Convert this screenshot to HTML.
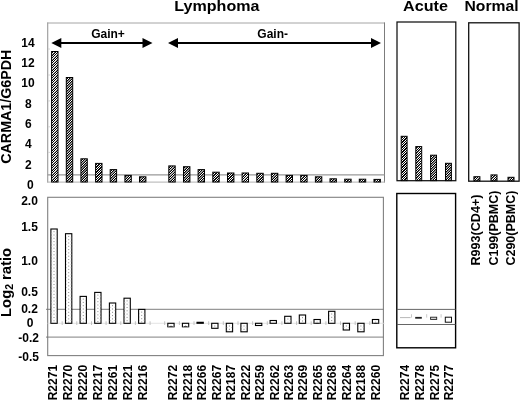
<!DOCTYPE html>
<html><head><meta charset="utf-8"><title>CARMA1</title>
<style>
html,body{margin:0;padding:0;background:#fff;}
body{width:520px;height:400px;overflow:hidden;font-family:"Liberation Sans",sans-serif;}
svg{display:block;will-change:transform;transform:translateZ(0);}
text{font-family:"Liberation Sans",sans-serif;font-weight:bold;fill:#000;}
</style></head><body>
<svg width="520" height="400" viewBox="0 0 520 400">
<defs>
<filter id="ct" x="0" y="0" width="100%" height="100%" color-interpolation-filters="sRGB"><feComponentTransfer><feFuncR type="linear" slope="2.5" intercept="-0.7"/><feFuncG type="linear" slope="2.5" intercept="-0.7"/><feFuncB type="linear" slope="2.5" intercept="-0.7"/></feComponentTransfer></filter>
</defs>
<rect width="520" height="400" fill="#fff"/>

<text transform="translate(216.9,11.1) scale(1,0.93)" font-size="16.1" text-anchor="middle">Lymphoma</text>
<text transform="translate(425.5,11) scale(1,0.93)" font-size="16.2" text-anchor="middle">Acute</text>
<text transform="translate(491.5,10.7) scale(1,0.93)" font-size="15.7" text-anchor="middle">Normal</text>
<text transform="translate(10.7,106.7) rotate(-90) scale(1.019,1)" font-size="14" text-anchor="middle">CARMA1/G6PDH</text>
<text transform="translate(10.8,316.9) rotate(-90) scale(1.055,1)" font-size="14">Log<tspan font-size="10" dy="2.6">2</tspan><tspan dy="-2.6"> ratio</tspan></text>
<text x="27.9" y="46.9" font-size="12" text-anchor="middle">14</text>
<text x="27.9" y="67.2" font-size="12" text-anchor="middle">12</text>
<text x="27.9" y="87.4" font-size="12" text-anchor="middle">10</text>
<text x="28.4" y="107.7" font-size="12" text-anchor="middle">8</text>
<text x="28.4" y="127.9" font-size="12" text-anchor="middle">6</text>
<text x="28.4" y="148.2" font-size="12" text-anchor="middle">4</text>
<text x="28.4" y="168.5" font-size="12" text-anchor="middle">2</text>
<text x="30.4" y="188.7" font-size="12" text-anchor="middle">0</text>
<text x="29.5" y="204.7" font-size="12" text-anchor="middle">2.0</text>
<text x="29.5" y="230.9" font-size="12" text-anchor="middle">1.5</text>
<text x="29.5" y="265.1" font-size="12" text-anchor="middle">1.0</text>
<text x="29.5" y="295.8" font-size="12" text-anchor="middle">0.5</text>
<text x="29.5" y="312.8" font-size="12" text-anchor="middle">0.2</text>
<text x="30.2" y="326.8" font-size="12" text-anchor="middle">0</text>
<text x="28.7" y="341.7" font-size="12" text-anchor="middle">-0.2</text>
<text x="28.7" y="361.4" font-size="12" text-anchor="middle">-0.5</text>
<line x1="47.7" y1="22.5" x2="47.7" y2="182.5" stroke="#999" stroke-width="1.1"/>
<line x1="47.2" y1="23" x2="385" y2="23" stroke="#a4a4a4" stroke-width="1"/>
<line x1="384.5" y1="22.5" x2="384.5" y2="182.5" stroke="#7c7c7c" stroke-width="1"/>
<line x1="47.2" y1="182.1" x2="385" y2="182.1" stroke="#b0b0b0" stroke-width="1"/>
<line x1="48.2" y1="49.0" x2="50" y2="49.0" stroke="#ccc" stroke-width="0.8"/>
<line x1="48.2" y1="75.0" x2="50" y2="75.0" stroke="#ccc" stroke-width="0.8"/>
<line x1="48.2" y1="100.9" x2="50" y2="100.9" stroke="#ccc" stroke-width="0.8"/>
<line x1="48.2" y1="126.8" x2="50" y2="126.8" stroke="#ccc" stroke-width="0.8"/>
<line x1="48.2" y1="152.4" x2="50" y2="152.4" stroke="#ccc" stroke-width="0.8"/>
<line x1="47.5" y1="174.9" x2="384.5" y2="174.9" stroke="#999" stroke-width="1.1"/>
<rect x="397" y="22" width="58.8" height="158.7" fill="none" stroke="#111" stroke-width="1.25"/>
<rect x="468.7" y="22.8" width="50.4" height="158.4" fill="none" stroke="#111" stroke-width="1.3"/>
<clipPath id="c1"><rect x="51.6" y="51.5" width="6.4" height="130.5"/></clipPath>
<g filter="url(#ct)"><rect x="51.6" y="51.5" width="6.4" height="130.5" fill="#fff"/>
<path clip-path="url(#c1)" d="M50.6,52.0 l8.4,-8.4 M50.6,54.5 l8.4,-8.4 M50.6,57.0 l8.4,-8.4 M50.6,59.5 l8.4,-8.4 M50.6,62.0 l8.4,-8.4 M50.6,64.5 l8.4,-8.4 M50.6,67.0 l8.4,-8.4 M50.6,69.5 l8.4,-8.4 M50.6,72.0 l8.4,-8.4 M50.6,74.5 l8.4,-8.4 M50.6,77.0 l8.4,-8.4 M50.6,79.5 l8.4,-8.4 M50.6,82.0 l8.4,-8.4 M50.6,84.5 l8.4,-8.4 M50.6,87.0 l8.4,-8.4 M50.6,89.5 l8.4,-8.4 M50.6,92.0 l8.4,-8.4 M50.6,94.5 l8.4,-8.4 M50.6,97.0 l8.4,-8.4 M50.6,99.5 l8.4,-8.4 M50.6,102.0 l8.4,-8.4 M50.6,104.5 l8.4,-8.4 M50.6,107.0 l8.4,-8.4 M50.6,109.5 l8.4,-8.4 M50.6,112.0 l8.4,-8.4 M50.6,114.5 l8.4,-8.4 M50.6,117.0 l8.4,-8.4 M50.6,119.5 l8.4,-8.4 M50.6,122.0 l8.4,-8.4 M50.6,124.5 l8.4,-8.4 M50.6,127.0 l8.4,-8.4 M50.6,129.5 l8.4,-8.4 M50.6,132.0 l8.4,-8.4 M50.6,134.5 l8.4,-8.4 M50.6,137.0 l8.4,-8.4 M50.6,139.5 l8.4,-8.4 M50.6,142.0 l8.4,-8.4 M50.6,144.5 l8.4,-8.4 M50.6,147.0 l8.4,-8.4 M50.6,149.5 l8.4,-8.4 M50.6,152.0 l8.4,-8.4 M50.6,154.5 l8.4,-8.4 M50.6,157.0 l8.4,-8.4 M50.6,159.5 l8.4,-8.4 M50.6,162.0 l8.4,-8.4 M50.6,164.5 l8.4,-8.4 M50.6,167.0 l8.4,-8.4 M50.6,169.5 l8.4,-8.4 M50.6,172.0 l8.4,-8.4 M50.6,174.5 l8.4,-8.4 M50.6,177.0 l8.4,-8.4 M50.6,179.5 l8.4,-8.4 M50.6,182.0 l8.4,-8.4 M50.6,184.5 l8.4,-8.4 M50.6,187.0 l8.4,-8.4 M50.6,189.5 l8.4,-8.4" stroke="#000" stroke-width="1.01" fill="none"/></g>
<rect x="51.6" y="51.5" width="6.4" height="130.5" fill="none" stroke="#000" stroke-width="1.0"/>
<clipPath id="c2"><rect x="66.3" y="77.5" width="6.4" height="104.5"/></clipPath>
<g filter="url(#ct)"><rect x="66.3" y="77.5" width="6.4" height="104.5" fill="#fff"/>
<path clip-path="url(#c2)" d="M65.3,78.0 l8.4,-8.4 M65.3,80.5 l8.4,-8.4 M65.3,83.0 l8.4,-8.4 M65.3,85.5 l8.4,-8.4 M65.3,88.0 l8.4,-8.4 M65.3,90.5 l8.4,-8.4 M65.3,93.0 l8.4,-8.4 M65.3,95.5 l8.4,-8.4 M65.3,98.0 l8.4,-8.4 M65.3,100.5 l8.4,-8.4 M65.3,103.0 l8.4,-8.4 M65.3,105.5 l8.4,-8.4 M65.3,108.0 l8.4,-8.4 M65.3,110.5 l8.4,-8.4 M65.3,113.0 l8.4,-8.4 M65.3,115.5 l8.4,-8.4 M65.3,118.0 l8.4,-8.4 M65.3,120.5 l8.4,-8.4 M65.3,123.0 l8.4,-8.4 M65.3,125.5 l8.4,-8.4 M65.3,128.0 l8.4,-8.4 M65.3,130.5 l8.4,-8.4 M65.3,133.0 l8.4,-8.4 M65.3,135.5 l8.4,-8.4 M65.3,138.0 l8.4,-8.4 M65.3,140.5 l8.4,-8.4 M65.3,143.0 l8.4,-8.4 M65.3,145.5 l8.4,-8.4 M65.3,148.0 l8.4,-8.4 M65.3,150.5 l8.4,-8.4 M65.3,153.0 l8.4,-8.4 M65.3,155.5 l8.4,-8.4 M65.3,158.0 l8.4,-8.4 M65.3,160.5 l8.4,-8.4 M65.3,163.0 l8.4,-8.4 M65.3,165.5 l8.4,-8.4 M65.3,168.0 l8.4,-8.4 M65.3,170.5 l8.4,-8.4 M65.3,173.0 l8.4,-8.4 M65.3,175.5 l8.4,-8.4 M65.3,178.0 l8.4,-8.4 M65.3,180.5 l8.4,-8.4 M65.3,183.0 l8.4,-8.4 M65.3,185.5 l8.4,-8.4 M65.3,188.0 l8.4,-8.4 M65.3,190.5 l8.4,-8.4" stroke="#000" stroke-width="1.01" fill="none"/></g>
<rect x="66.3" y="77.5" width="6.4" height="104.5" fill="none" stroke="#000" stroke-width="1.0"/>
<clipPath id="c3"><rect x="80.9" y="158.8" width="6.4" height="23.2"/></clipPath>
<g filter="url(#ct)"><rect x="80.9" y="158.8" width="6.4" height="23.2" fill="#fff"/>
<path clip-path="url(#c3)" d="M79.9,159.3 l8.4,-8.4 M79.9,161.8 l8.4,-8.4 M79.9,164.3 l8.4,-8.4 M79.9,166.8 l8.4,-8.4 M79.9,169.3 l8.4,-8.4 M79.9,171.8 l8.4,-8.4 M79.9,174.3 l8.4,-8.4 M79.9,176.8 l8.4,-8.4 M79.9,179.3 l8.4,-8.4 M79.9,181.8 l8.4,-8.4 M79.9,184.3 l8.4,-8.4 M79.9,186.8 l8.4,-8.4 M79.9,189.3 l8.4,-8.4 M79.9,191.8 l8.4,-8.4" stroke="#000" stroke-width="1.01" fill="none"/></g>
<rect x="80.9" y="158.8" width="6.4" height="23.2" fill="none" stroke="#000" stroke-width="1.0"/>
<clipPath id="c4"><rect x="95.6" y="163.4" width="6.4" height="18.6"/></clipPath>
<g filter="url(#ct)"><rect x="95.6" y="163.4" width="6.4" height="18.6" fill="#fff"/>
<path clip-path="url(#c4)" d="M94.6,163.9 l8.4,-8.4 M94.6,166.4 l8.4,-8.4 M94.6,168.9 l8.4,-8.4 M94.6,171.4 l8.4,-8.4 M94.6,173.9 l8.4,-8.4 M94.6,176.4 l8.4,-8.4 M94.6,178.9 l8.4,-8.4 M94.6,181.4 l8.4,-8.4 M94.6,183.9 l8.4,-8.4 M94.6,186.4 l8.4,-8.4 M94.6,188.9 l8.4,-8.4 M94.6,191.4 l8.4,-8.4" stroke="#000" stroke-width="1.01" fill="none"/></g>
<rect x="95.6" y="163.4" width="6.4" height="18.6" fill="none" stroke="#000" stroke-width="1.0"/>
<clipPath id="c5"><rect x="110.2" y="169.6" width="6.4" height="12.4"/></clipPath>
<g filter="url(#ct)"><rect x="110.2" y="169.6" width="6.4" height="12.4" fill="#fff"/>
<path clip-path="url(#c5)" d="M109.2,170.1 l8.4,-8.4 M109.2,172.6 l8.4,-8.4 M109.2,175.1 l8.4,-8.4 M109.2,177.6 l8.4,-8.4 M109.2,180.1 l8.4,-8.4 M109.2,182.6 l8.4,-8.4 M109.2,185.1 l8.4,-8.4 M109.2,187.6 l8.4,-8.4 M109.2,190.1 l8.4,-8.4" stroke="#000" stroke-width="1.01" fill="none"/></g>
<rect x="110.2" y="169.6" width="6.4" height="12.4" fill="none" stroke="#000" stroke-width="1.0"/>
<clipPath id="c6"><rect x="124.9" y="175.4" width="6.4" height="6.6"/></clipPath>
<g filter="url(#ct)"><rect x="124.9" y="175.4" width="6.4" height="6.6" fill="#fff"/>
<path clip-path="url(#c6)" d="M123.9,175.9 l8.4,-8.4 M123.9,178.4 l8.4,-8.4 M123.9,180.9 l8.4,-8.4 M123.9,183.4 l8.4,-8.4 M123.9,185.9 l8.4,-8.4 M123.9,188.4 l8.4,-8.4 M123.9,190.9 l8.4,-8.4" stroke="#000" stroke-width="1.01" fill="none"/></g>
<rect x="124.9" y="175.4" width="6.4" height="6.6" fill="none" stroke="#000" stroke-width="1.0"/>
<clipPath id="c7"><rect x="139.5" y="176.8" width="6.4" height="5.2"/></clipPath>
<g filter="url(#ct)"><rect x="139.5" y="176.8" width="6.4" height="5.2" fill="#fff"/>
<path clip-path="url(#c7)" d="M138.5,177.3 l8.4,-8.4 M138.5,179.8 l8.4,-8.4 M138.5,182.3 l8.4,-8.4 M138.5,184.8 l8.4,-8.4 M138.5,187.3 l8.4,-8.4 M138.5,189.8 l8.4,-8.4" stroke="#000" stroke-width="1.01" fill="none"/></g>
<rect x="139.5" y="176.8" width="6.4" height="5.2" fill="none" stroke="#000" stroke-width="1.0"/>
<clipPath id="c8"><rect x="168.8" y="165.9" width="6.4" height="16.1"/></clipPath>
<g filter="url(#ct)"><rect x="168.8" y="165.9" width="6.4" height="16.1" fill="#fff"/>
<path clip-path="url(#c8)" d="M167.8,166.4 l8.4,-8.4 M167.8,168.9 l8.4,-8.4 M167.8,171.4 l8.4,-8.4 M167.8,173.9 l8.4,-8.4 M167.8,176.4 l8.4,-8.4 M167.8,178.9 l8.4,-8.4 M167.8,181.4 l8.4,-8.4 M167.8,183.9 l8.4,-8.4 M167.8,186.4 l8.4,-8.4 M167.8,188.9 l8.4,-8.4 M167.8,191.4 l8.4,-8.4" stroke="#000" stroke-width="1.01" fill="none"/></g>
<rect x="168.8" y="165.9" width="6.4" height="16.1" fill="none" stroke="#000" stroke-width="1.0"/>
<clipPath id="c9"><rect x="183.5" y="166.7" width="6.4" height="15.3"/></clipPath>
<g filter="url(#ct)"><rect x="183.5" y="166.7" width="6.4" height="15.3" fill="#fff"/>
<path clip-path="url(#c9)" d="M182.5,167.2 l8.4,-8.4 M182.5,169.7 l8.4,-8.4 M182.5,172.2 l8.4,-8.4 M182.5,174.7 l8.4,-8.4 M182.5,177.2 l8.4,-8.4 M182.5,179.7 l8.4,-8.4 M182.5,182.2 l8.4,-8.4 M182.5,184.7 l8.4,-8.4 M182.5,187.2 l8.4,-8.4 M182.5,189.7 l8.4,-8.4" stroke="#000" stroke-width="1.01" fill="none"/></g>
<rect x="183.5" y="166.7" width="6.4" height="15.3" fill="none" stroke="#000" stroke-width="1.0"/>
<clipPath id="c10"><rect x="198.1" y="169.6" width="6.4" height="12.4"/></clipPath>
<g filter="url(#ct)"><rect x="198.1" y="169.6" width="6.4" height="12.4" fill="#fff"/>
<path clip-path="url(#c10)" d="M197.1,170.1 l8.4,-8.4 M197.1,172.6 l8.4,-8.4 M197.1,175.1 l8.4,-8.4 M197.1,177.6 l8.4,-8.4 M197.1,180.1 l8.4,-8.4 M197.1,182.6 l8.4,-8.4 M197.1,185.1 l8.4,-8.4 M197.1,187.6 l8.4,-8.4 M197.1,190.1 l8.4,-8.4" stroke="#000" stroke-width="1.01" fill="none"/></g>
<rect x="198.1" y="169.6" width="6.4" height="12.4" fill="none" stroke="#000" stroke-width="1.0"/>
<clipPath id="c11"><rect x="212.8" y="172.2" width="6.4" height="9.8"/></clipPath>
<g filter="url(#ct)"><rect x="212.8" y="172.2" width="6.4" height="9.8" fill="#fff"/>
<path clip-path="url(#c11)" d="M211.8,172.7 l8.4,-8.4 M211.8,175.2 l8.4,-8.4 M211.8,177.7 l8.4,-8.4 M211.8,180.2 l8.4,-8.4 M211.8,182.7 l8.4,-8.4 M211.8,185.2 l8.4,-8.4 M211.8,187.7 l8.4,-8.4 M211.8,190.2 l8.4,-8.4" stroke="#000" stroke-width="1.01" fill="none"/></g>
<rect x="212.8" y="172.2" width="6.4" height="9.8" fill="none" stroke="#000" stroke-width="1.0"/>
<clipPath id="c12"><rect x="227.5" y="173.0" width="6.4" height="9.0"/></clipPath>
<g filter="url(#ct)"><rect x="227.5" y="173.0" width="6.4" height="9.0" fill="#fff"/>
<path clip-path="url(#c12)" d="M226.5,173.5 l8.4,-8.4 M226.5,176.0 l8.4,-8.4 M226.5,178.5 l8.4,-8.4 M226.5,181.0 l8.4,-8.4 M226.5,183.5 l8.4,-8.4 M226.5,186.0 l8.4,-8.4 M226.5,188.5 l8.4,-8.4 M226.5,191.0 l8.4,-8.4" stroke="#000" stroke-width="1.01" fill="none"/></g>
<rect x="227.5" y="173.0" width="6.4" height="9.0" fill="none" stroke="#000" stroke-width="1.0"/>
<clipPath id="c13"><rect x="242.1" y="173.0" width="6.4" height="9.0"/></clipPath>
<g filter="url(#ct)"><rect x="242.1" y="173.0" width="6.4" height="9.0" fill="#fff"/>
<path clip-path="url(#c13)" d="M241.1,173.5 l8.4,-8.4 M241.1,176.0 l8.4,-8.4 M241.1,178.5 l8.4,-8.4 M241.1,181.0 l8.4,-8.4 M241.1,183.5 l8.4,-8.4 M241.1,186.0 l8.4,-8.4 M241.1,188.5 l8.4,-8.4 M241.1,191.0 l8.4,-8.4" stroke="#000" stroke-width="1.01" fill="none"/></g>
<rect x="242.1" y="173.0" width="6.4" height="9.0" fill="none" stroke="#000" stroke-width="1.0"/>
<clipPath id="c14"><rect x="256.8" y="173.3" width="6.4" height="8.7"/></clipPath>
<g filter="url(#ct)"><rect x="256.8" y="173.3" width="6.4" height="8.7" fill="#fff"/>
<path clip-path="url(#c14)" d="M255.8,173.8 l8.4,-8.4 M255.8,176.3 l8.4,-8.4 M255.8,178.8 l8.4,-8.4 M255.8,181.3 l8.4,-8.4 M255.8,183.8 l8.4,-8.4 M255.8,186.3 l8.4,-8.4 M255.8,188.8 l8.4,-8.4 M255.8,191.3 l8.4,-8.4" stroke="#000" stroke-width="1.01" fill="none"/></g>
<rect x="256.8" y="173.3" width="6.4" height="8.7" fill="none" stroke="#000" stroke-width="1.0"/>
<clipPath id="c15"><rect x="271.4" y="173.3" width="6.4" height="8.7"/></clipPath>
<g filter="url(#ct)"><rect x="271.4" y="173.3" width="6.4" height="8.7" fill="#fff"/>
<path clip-path="url(#c15)" d="M270.4,173.8 l8.4,-8.4 M270.4,176.3 l8.4,-8.4 M270.4,178.8 l8.4,-8.4 M270.4,181.3 l8.4,-8.4 M270.4,183.8 l8.4,-8.4 M270.4,186.3 l8.4,-8.4 M270.4,188.8 l8.4,-8.4 M270.4,191.3 l8.4,-8.4" stroke="#000" stroke-width="1.01" fill="none"/></g>
<rect x="271.4" y="173.3" width="6.4" height="8.7" fill="none" stroke="#000" stroke-width="1.0"/>
<clipPath id="c16"><rect x="286.1" y="175.4" width="6.4" height="6.6"/></clipPath>
<g filter="url(#ct)"><rect x="286.1" y="175.4" width="6.4" height="6.6" fill="#fff"/>
<path clip-path="url(#c16)" d="M285.1,175.9 l8.4,-8.4 M285.1,178.4 l8.4,-8.4 M285.1,180.9 l8.4,-8.4 M285.1,183.4 l8.4,-8.4 M285.1,185.9 l8.4,-8.4 M285.1,188.4 l8.4,-8.4 M285.1,190.9 l8.4,-8.4" stroke="#000" stroke-width="1.01" fill="none"/></g>
<rect x="286.1" y="175.4" width="6.4" height="6.6" fill="none" stroke="#000" stroke-width="1.0"/>
<clipPath id="c17"><rect x="300.7" y="175.4" width="6.4" height="6.6"/></clipPath>
<g filter="url(#ct)"><rect x="300.7" y="175.4" width="6.4" height="6.6" fill="#fff"/>
<path clip-path="url(#c17)" d="M299.7,175.9 l8.4,-8.4 M299.7,178.4 l8.4,-8.4 M299.7,180.9 l8.4,-8.4 M299.7,183.4 l8.4,-8.4 M299.7,185.9 l8.4,-8.4 M299.7,188.4 l8.4,-8.4 M299.7,190.9 l8.4,-8.4" stroke="#000" stroke-width="1.01" fill="none"/></g>
<rect x="300.7" y="175.4" width="6.4" height="6.6" fill="none" stroke="#000" stroke-width="1.0"/>
<clipPath id="c18"><rect x="315.4" y="176.8" width="6.4" height="5.2"/></clipPath>
<g filter="url(#ct)"><rect x="315.4" y="176.8" width="6.4" height="5.2" fill="#fff"/>
<path clip-path="url(#c18)" d="M314.4,177.3 l8.4,-8.4 M314.4,179.8 l8.4,-8.4 M314.4,182.3 l8.4,-8.4 M314.4,184.8 l8.4,-8.4 M314.4,187.3 l8.4,-8.4 M314.4,189.8 l8.4,-8.4" stroke="#000" stroke-width="1.01" fill="none"/></g>
<rect x="315.4" y="176.8" width="6.4" height="5.2" fill="none" stroke="#000" stroke-width="1.0"/>
<clipPath id="c19"><rect x="330.0" y="178.8" width="6.4" height="3.2"/></clipPath>
<g filter="url(#ct)"><rect x="330.0" y="178.8" width="6.4" height="3.2" fill="#fff"/>
<path clip-path="url(#c19)" d="M329.0,179.3 l8.4,-8.4 M329.0,181.8 l8.4,-8.4 M329.0,184.3 l8.4,-8.4 M329.0,186.8 l8.4,-8.4 M329.0,189.3 l8.4,-8.4 M329.0,191.8 l8.4,-8.4" stroke="#000" stroke-width="1.01" fill="none"/></g>
<rect x="330.0" y="178.8" width="6.4" height="3.2" fill="none" stroke="#000" stroke-width="1.0"/>
<clipPath id="c20"><rect x="344.7" y="179.2" width="6.4" height="2.8"/></clipPath>
<g filter="url(#ct)"><rect x="344.7" y="179.2" width="6.4" height="2.8" fill="#fff"/>
<path clip-path="url(#c20)" d="M343.7,179.7 l8.4,-8.4 M343.7,182.2 l8.4,-8.4 M343.7,184.7 l8.4,-8.4 M343.7,187.2 l8.4,-8.4 M343.7,189.7 l8.4,-8.4" stroke="#000" stroke-width="1.01" fill="none"/></g>
<rect x="344.7" y="179.2" width="6.4" height="2.8" fill="none" stroke="#000" stroke-width="1.0"/>
<clipPath id="c21"><rect x="359.3" y="179.2" width="6.4" height="2.8"/></clipPath>
<g filter="url(#ct)"><rect x="359.3" y="179.2" width="6.4" height="2.8" fill="#fff"/>
<path clip-path="url(#c21)" d="M358.3,179.7 l8.4,-8.4 M358.3,182.2 l8.4,-8.4 M358.3,184.7 l8.4,-8.4 M358.3,187.2 l8.4,-8.4 M358.3,189.7 l8.4,-8.4" stroke="#000" stroke-width="1.01" fill="none"/></g>
<rect x="359.3" y="179.2" width="6.4" height="2.8" fill="none" stroke="#000" stroke-width="1.0"/>
<clipPath id="c22"><rect x="374.0" y="179.4" width="6.4" height="2.6"/></clipPath>
<g filter="url(#ct)"><rect x="374.0" y="179.4" width="6.4" height="2.6" fill="#fff"/>
<path clip-path="url(#c22)" d="M373.0,179.9 l8.4,-8.4 M373.0,182.4 l8.4,-8.4 M373.0,184.9 l8.4,-8.4 M373.0,187.4 l8.4,-8.4 M373.0,189.9 l8.4,-8.4" stroke="#000" stroke-width="1.01" fill="none"/></g>
<rect x="374.0" y="179.4" width="6.4" height="2.6" fill="none" stroke="#000" stroke-width="1.0"/>
<clipPath id="c23"><rect x="401.2" y="136.3" width="5.9" height="44.3"/></clipPath>
<g filter="url(#ct)"><rect x="401.2" y="136.3" width="5.9" height="44.3" fill="#fff"/>
<path clip-path="url(#c23)" d="M400.2,136.8 l7.9,-7.9 M400.2,139.3 l7.9,-7.9 M400.2,141.8 l7.9,-7.9 M400.2,144.3 l7.9,-7.9 M400.2,146.8 l7.9,-7.9 M400.2,149.3 l7.9,-7.9 M400.2,151.8 l7.9,-7.9 M400.2,154.3 l7.9,-7.9 M400.2,156.8 l7.9,-7.9 M400.2,159.3 l7.9,-7.9 M400.2,161.8 l7.9,-7.9 M400.2,164.3 l7.9,-7.9 M400.2,166.8 l7.9,-7.9 M400.2,169.3 l7.9,-7.9 M400.2,171.8 l7.9,-7.9 M400.2,174.3 l7.9,-7.9 M400.2,176.8 l7.9,-7.9 M400.2,179.3 l7.9,-7.9 M400.2,181.8 l7.9,-7.9 M400.2,184.3 l7.9,-7.9 M400.2,186.8 l7.9,-7.9 M400.2,189.3 l7.9,-7.9" stroke="#000" stroke-width="1.01" fill="none"/></g>
<rect x="401.2" y="136.3" width="5.9" height="44.3" fill="none" stroke="#000" stroke-width="1.0"/>
<clipPath id="c24"><rect x="415.8" y="146.6" width="5.9" height="34.0"/></clipPath>
<g filter="url(#ct)"><rect x="415.8" y="146.6" width="5.9" height="34.0" fill="#fff"/>
<path clip-path="url(#c24)" d="M414.8,147.1 l7.9,-7.9 M414.8,149.6 l7.9,-7.9 M414.8,152.1 l7.9,-7.9 M414.8,154.6 l7.9,-7.9 M414.8,157.1 l7.9,-7.9 M414.8,159.6 l7.9,-7.9 M414.8,162.1 l7.9,-7.9 M414.8,164.6 l7.9,-7.9 M414.8,167.1 l7.9,-7.9 M414.8,169.6 l7.9,-7.9 M414.8,172.1 l7.9,-7.9 M414.8,174.6 l7.9,-7.9 M414.8,177.1 l7.9,-7.9 M414.8,179.6 l7.9,-7.9 M414.8,182.1 l7.9,-7.9 M414.8,184.6 l7.9,-7.9 M414.8,187.1 l7.9,-7.9 M414.8,189.6 l7.9,-7.9" stroke="#000" stroke-width="1.01" fill="none"/></g>
<rect x="415.8" y="146.6" width="5.9" height="34.0" fill="none" stroke="#000" stroke-width="1.0"/>
<clipPath id="c25"><rect x="430.6" y="155.2" width="5.9" height="25.4"/></clipPath>
<g filter="url(#ct)"><rect x="430.6" y="155.2" width="5.9" height="25.4" fill="#fff"/>
<path clip-path="url(#c25)" d="M429.6,155.7 l7.9,-7.9 M429.6,158.2 l7.9,-7.9 M429.6,160.7 l7.9,-7.9 M429.6,163.2 l7.9,-7.9 M429.6,165.7 l7.9,-7.9 M429.6,168.2 l7.9,-7.9 M429.6,170.7 l7.9,-7.9 M429.6,173.2 l7.9,-7.9 M429.6,175.7 l7.9,-7.9 M429.6,178.2 l7.9,-7.9 M429.6,180.7 l7.9,-7.9 M429.6,183.2 l7.9,-7.9 M429.6,185.7 l7.9,-7.9 M429.6,188.2 l7.9,-7.9" stroke="#000" stroke-width="1.01" fill="none"/></g>
<rect x="430.6" y="155.2" width="5.9" height="25.4" fill="none" stroke="#000" stroke-width="1.0"/>
<clipPath id="c26"><rect x="445.5" y="163.3" width="5.9" height="17.3"/></clipPath>
<g filter="url(#ct)"><rect x="445.5" y="163.3" width="5.9" height="17.3" fill="#fff"/>
<path clip-path="url(#c26)" d="M444.5,163.8 l7.9,-7.9 M444.5,166.3 l7.9,-7.9 M444.5,168.8 l7.9,-7.9 M444.5,171.3 l7.9,-7.9 M444.5,173.8 l7.9,-7.9 M444.5,176.3 l7.9,-7.9 M444.5,178.8 l7.9,-7.9 M444.5,181.3 l7.9,-7.9 M444.5,183.8 l7.9,-7.9 M444.5,186.3 l7.9,-7.9 M444.5,188.8 l7.9,-7.9" stroke="#000" stroke-width="1.01" fill="none"/></g>
<rect x="445.5" y="163.3" width="5.9" height="17.3" fill="none" stroke="#000" stroke-width="1.0"/>
<clipPath id="c27"><rect x="473.9" y="176.7" width="6.0" height="4.1"/></clipPath>
<g filter="url(#ct)"><rect x="473.9" y="176.7" width="6.0" height="4.1" fill="#fff"/>
<path clip-path="url(#c27)" d="M472.9,177.2 l8.0,-8.0 M472.9,179.7 l8.0,-8.0 M472.9,182.2 l8.0,-8.0 M472.9,184.7 l8.0,-8.0 M472.9,187.2 l8.0,-8.0 M472.9,189.7 l8.0,-8.0" stroke="#000" stroke-width="1.01" fill="none"/></g>
<rect x="473.9" y="176.7" width="6.0" height="4.1" fill="none" stroke="#000" stroke-width="1.0"/>
<clipPath id="c28"><rect x="491.0" y="174.9" width="6.0" height="5.9"/></clipPath>
<g filter="url(#ct)"><rect x="491.0" y="174.9" width="6.0" height="5.9" fill="#fff"/>
<path clip-path="url(#c28)" d="M490.0,175.4 l8.0,-8.0 M490.0,177.9 l8.0,-8.0 M490.0,180.4 l8.0,-8.0 M490.0,182.9 l8.0,-8.0 M490.0,185.4 l8.0,-8.0 M490.0,187.9 l8.0,-8.0" stroke="#000" stroke-width="1.01" fill="none"/></g>
<rect x="491.0" y="174.9" width="6.0" height="5.9" fill="none" stroke="#000" stroke-width="1.0"/>
<clipPath id="c29"><rect x="508.0" y="177.3" width="6.0" height="3.5"/></clipPath>
<g filter="url(#ct)"><rect x="508.0" y="177.3" width="6.0" height="3.5" fill="#fff"/>
<path clip-path="url(#c29)" d="M507.0,177.8 l8.0,-8.0 M507.0,180.3 l8.0,-8.0 M507.0,182.8 l8.0,-8.0 M507.0,185.3 l8.0,-8.0 M507.0,187.8 l8.0,-8.0" stroke="#000" stroke-width="1.01" fill="none"/></g>
<rect x="508.0" y="177.3" width="6.0" height="3.5" fill="none" stroke="#000" stroke-width="1.0"/>
<line x1="56.3" y1="43.0" x2="147.5" y2="43.0" stroke="#000" stroke-width="2.2"/>
<path d="M51.3,43.0 l10,-5 v10 z" fill="#000"/>
<path d="M152.5,43.0 l-10,-5 v10 z" fill="#000"/>
<line x1="173.0" y1="43.0" x2="376.0" y2="43.0" stroke="#000" stroke-width="2.2"/>
<path d="M168.0,43.0 l10,-5 v10 z" fill="#000"/>
<path d="M381.0,43.0 l-10,-5 v10 z" fill="#000"/>
<text x="108" y="38" font-size="12" text-anchor="middle">Gain+</text>
<text x="272.7" y="37.6" font-size="12" text-anchor="middle">Gain-</text>
<rect x="47.7" y="197.3" width="335.7" height="158.3" fill="none" stroke="#808080" stroke-width="1.1"/>
<line x1="46" y1="309.3" x2="383.4" y2="309.3" stroke="#707070" stroke-width="0.9"/>
<line x1="46" y1="337.1" x2="383.4" y2="337.1" stroke="#707070" stroke-width="0.9"/>
<line x1="47.5" y1="323.3" x2="384.5" y2="323.3" stroke="#ddd" stroke-width="0.8"/>
<line x1="62.2" y1="321.3" x2="62.2" y2="325" stroke="#bbb" stroke-width="0.9"/>
<line x1="76.8" y1="321.3" x2="76.8" y2="325" stroke="#bbb" stroke-width="0.9"/>
<line x1="91.5" y1="321.3" x2="91.5" y2="325" stroke="#bbb" stroke-width="0.9"/>
<line x1="106.1" y1="321.3" x2="106.1" y2="325" stroke="#bbb" stroke-width="0.9"/>
<line x1="120.8" y1="321.3" x2="120.8" y2="325" stroke="#bbb" stroke-width="0.9"/>
<line x1="135.4" y1="321.3" x2="135.4" y2="325" stroke="#bbb" stroke-width="0.9"/>
<line x1="150.1" y1="321.3" x2="150.1" y2="325" stroke="#bbb" stroke-width="0.9"/>
<line x1="164.7" y1="321.3" x2="164.7" y2="325" stroke="#bbb" stroke-width="0.9"/>
<line x1="179.4" y1="321.3" x2="179.4" y2="325" stroke="#bbb" stroke-width="0.9"/>
<line x1="194.0" y1="321.3" x2="194.0" y2="325" stroke="#bbb" stroke-width="0.9"/>
<line x1="208.7" y1="321.3" x2="208.7" y2="325" stroke="#bbb" stroke-width="0.9"/>
<line x1="223.3" y1="321.3" x2="223.3" y2="325" stroke="#bbb" stroke-width="0.9"/>
<line x1="238.0" y1="321.3" x2="238.0" y2="325" stroke="#bbb" stroke-width="0.9"/>
<line x1="252.6" y1="321.3" x2="252.6" y2="325" stroke="#bbb" stroke-width="0.9"/>
<line x1="267.3" y1="321.3" x2="267.3" y2="325" stroke="#bbb" stroke-width="0.9"/>
<line x1="281.9" y1="321.3" x2="281.9" y2="325" stroke="#bbb" stroke-width="0.9"/>
<line x1="296.6" y1="321.3" x2="296.6" y2="325" stroke="#bbb" stroke-width="0.9"/>
<line x1="311.2" y1="321.3" x2="311.2" y2="325" stroke="#bbb" stroke-width="0.9"/>
<line x1="325.9" y1="321.3" x2="325.9" y2="325" stroke="#bbb" stroke-width="0.9"/>
<line x1="340.5" y1="321.3" x2="340.5" y2="325" stroke="#bbb" stroke-width="0.9"/>
<line x1="355.2" y1="321.3" x2="355.2" y2="325" stroke="#bbb" stroke-width="0.9"/>
<line x1="369.8" y1="321.3" x2="369.8" y2="325" stroke="#bbb" stroke-width="0.9"/>
<rect x="396.8" y="193.5" width="58.8" height="154.3" fill="none" stroke="#000" stroke-width="1.4"/>
<line x1="396.8" y1="309.4" x2="455.6" y2="309.4" stroke="#555" stroke-width="0.9"/>
<line x1="396.8" y1="324.5" x2="455.6" y2="324.5" stroke="#555" stroke-width="0.9"/>
<line x1="411.5" y1="314.2" x2="411.5" y2="317.6" stroke="#bbb" stroke-width="0.8"/>
<line x1="426.7" y1="314.2" x2="426.7" y2="317.6" stroke="#bbb" stroke-width="0.8"/>
<line x1="441.1" y1="314.2" x2="441.1" y2="317.6" stroke="#bbb" stroke-width="0.8"/>
<rect x="50.9" y="229.0" width="6.3" height="94.3" fill="#fff" stroke="#000" stroke-width="1.1"/>
<line x1="54.0" y1="231.2" x2="54.0" y2="322.5" stroke="#888" stroke-width="1" stroke-dasharray="1,2.3"/>
<line x1="51.8" y1="232.8" x2="51.8" y2="322.5" stroke="#bbb" stroke-width="0.8" stroke-dasharray="1,2.3"/>
<line x1="56.2" y1="232.8" x2="56.2" y2="322.5" stroke="#bbb" stroke-width="0.8" stroke-dasharray="1,2.3"/>
<rect x="65.5" y="233.7" width="6.3" height="89.6" fill="#fff" stroke="#000" stroke-width="1.1"/>
<line x1="68.7" y1="235.9" x2="68.7" y2="322.5" stroke="#888" stroke-width="1" stroke-dasharray="1,2.3"/>
<line x1="66.5" y1="237.5" x2="66.5" y2="322.5" stroke="#bbb" stroke-width="0.8" stroke-dasharray="1,2.3"/>
<line x1="70.9" y1="237.5" x2="70.9" y2="322.5" stroke="#bbb" stroke-width="0.8" stroke-dasharray="1,2.3"/>
<rect x="80.1" y="296.4" width="6.3" height="26.9" fill="#fff" stroke="#000" stroke-width="1.1"/>
<line x1="83.3" y1="298.6" x2="83.3" y2="322.5" stroke="#888" stroke-width="1" stroke-dasharray="1,2.3"/>
<line x1="81.1" y1="300.2" x2="81.1" y2="322.5" stroke="#bbb" stroke-width="0.8" stroke-dasharray="1,2.3"/>
<line x1="85.5" y1="300.2" x2="85.5" y2="322.5" stroke="#bbb" stroke-width="0.8" stroke-dasharray="1,2.3"/>
<rect x="94.7" y="292.4" width="6.3" height="30.9" fill="#fff" stroke="#000" stroke-width="1.1"/>
<line x1="97.9" y1="294.6" x2="97.9" y2="322.5" stroke="#888" stroke-width="1" stroke-dasharray="1,2.3"/>
<line x1="95.7" y1="296.2" x2="95.7" y2="322.5" stroke="#bbb" stroke-width="0.8" stroke-dasharray="1,2.3"/>
<line x1="100.1" y1="296.2" x2="100.1" y2="322.5" stroke="#bbb" stroke-width="0.8" stroke-dasharray="1,2.3"/>
<rect x="109.4" y="303.0" width="6.3" height="20.3" fill="#fff" stroke="#000" stroke-width="1.1"/>
<line x1="112.5" y1="305.2" x2="112.5" y2="322.5" stroke="#888" stroke-width="1" stroke-dasharray="1,2.3"/>
<line x1="110.3" y1="306.8" x2="110.3" y2="322.5" stroke="#bbb" stroke-width="0.8" stroke-dasharray="1,2.3"/>
<line x1="114.7" y1="306.8" x2="114.7" y2="322.5" stroke="#bbb" stroke-width="0.8" stroke-dasharray="1,2.3"/>
<rect x="124.0" y="298.2" width="6.3" height="25.1" fill="#fff" stroke="#000" stroke-width="1.1"/>
<line x1="127.1" y1="300.4" x2="127.1" y2="322.5" stroke="#888" stroke-width="1" stroke-dasharray="1,2.3"/>
<line x1="124.9" y1="302.0" x2="124.9" y2="322.5" stroke="#bbb" stroke-width="0.8" stroke-dasharray="1,2.3"/>
<line x1="129.3" y1="302.0" x2="129.3" y2="322.5" stroke="#bbb" stroke-width="0.8" stroke-dasharray="1,2.3"/>
<rect x="138.6" y="309.4" width="6.3" height="13.9" fill="#fff" stroke="#000" stroke-width="1.1"/>
<line x1="141.7" y1="311.6" x2="141.7" y2="322.5" stroke="#888" stroke-width="1" stroke-dasharray="1,2.3"/>
<line x1="139.5" y1="313.2" x2="139.5" y2="322.5" stroke="#bbb" stroke-width="0.8" stroke-dasharray="1,2.3"/>
<line x1="143.9" y1="313.2" x2="143.9" y2="322.5" stroke="#bbb" stroke-width="0.8" stroke-dasharray="1,2.3"/>
<rect x="167.8" y="323.3" width="6.3" height="3.5" fill="#fff" stroke="#000" stroke-width="1.1"/>
<line x1="171.0" y1="325.5" x2="171.0" y2="326.0" stroke="#888" stroke-width="1" stroke-dasharray="1,2.3"/>
<line x1="168.8" y1="327.1" x2="168.8" y2="326.0" stroke="#bbb" stroke-width="0.8" stroke-dasharray="1,2.3"/>
<line x1="173.2" y1="327.1" x2="173.2" y2="326.0" stroke="#bbb" stroke-width="0.8" stroke-dasharray="1,2.3"/>
<rect x="182.4" y="323.3" width="6.3" height="3.5" fill="#fff" stroke="#000" stroke-width="1.1"/>
<line x1="185.6" y1="325.5" x2="185.6" y2="326.0" stroke="#888" stroke-width="1" stroke-dasharray="1,2.3"/>
<line x1="183.4" y1="327.1" x2="183.4" y2="326.0" stroke="#bbb" stroke-width="0.8" stroke-dasharray="1,2.3"/>
<line x1="187.8" y1="327.1" x2="187.8" y2="326.0" stroke="#bbb" stroke-width="0.8" stroke-dasharray="1,2.3"/>
<rect x="197.0" y="322.3" width="6.3" height="1.0" fill="#fff" stroke="#000" stroke-width="1.1"/>
<rect x="211.7" y="323.3" width="6.3" height="5.0" fill="#fff" stroke="#000" stroke-width="1.1"/>
<line x1="214.8" y1="325.5" x2="214.8" y2="327.5" stroke="#888" stroke-width="1" stroke-dasharray="1,2.3"/>
<line x1="212.6" y1="327.1" x2="212.6" y2="327.5" stroke="#bbb" stroke-width="0.8" stroke-dasharray="1,2.3"/>
<line x1="217.0" y1="327.1" x2="217.0" y2="327.5" stroke="#bbb" stroke-width="0.8" stroke-dasharray="1,2.3"/>
<rect x="226.3" y="323.3" width="6.3" height="8.5" fill="#fff" stroke="#000" stroke-width="1.1"/>
<line x1="229.4" y1="325.5" x2="229.4" y2="331.0" stroke="#888" stroke-width="1" stroke-dasharray="1,2.3"/>
<line x1="227.2" y1="327.1" x2="227.2" y2="331.0" stroke="#bbb" stroke-width="0.8" stroke-dasharray="1,2.3"/>
<line x1="231.6" y1="327.1" x2="231.6" y2="331.0" stroke="#bbb" stroke-width="0.8" stroke-dasharray="1,2.3"/>
<rect x="240.9" y="323.3" width="6.3" height="8.5" fill="#fff" stroke="#000" stroke-width="1.1"/>
<line x1="244.0" y1="325.5" x2="244.0" y2="331.0" stroke="#888" stroke-width="1" stroke-dasharray="1,2.3"/>
<line x1="241.8" y1="327.1" x2="241.8" y2="331.0" stroke="#bbb" stroke-width="0.8" stroke-dasharray="1,2.3"/>
<line x1="246.2" y1="327.1" x2="246.2" y2="331.0" stroke="#bbb" stroke-width="0.8" stroke-dasharray="1,2.3"/>
<rect x="255.5" y="323.3" width="6.3" height="2.2" fill="#fff" stroke="#000" stroke-width="1.1"/>
<rect x="270.1" y="320.5" width="6.3" height="2.8" fill="#fff" stroke="#000" stroke-width="1.1"/>
<rect x="284.7" y="316.3" width="6.3" height="7.0" fill="#fff" stroke="#000" stroke-width="1.1"/>
<line x1="287.9" y1="318.5" x2="287.9" y2="322.5" stroke="#888" stroke-width="1" stroke-dasharray="1,2.3"/>
<line x1="285.7" y1="320.1" x2="285.7" y2="322.5" stroke="#bbb" stroke-width="0.8" stroke-dasharray="1,2.3"/>
<line x1="290.1" y1="320.1" x2="290.1" y2="322.5" stroke="#bbb" stroke-width="0.8" stroke-dasharray="1,2.3"/>
<rect x="299.3" y="315.0" width="6.3" height="8.3" fill="#fff" stroke="#000" stroke-width="1.1"/>
<line x1="302.5" y1="317.2" x2="302.5" y2="322.5" stroke="#888" stroke-width="1" stroke-dasharray="1,2.3"/>
<line x1="300.3" y1="318.8" x2="300.3" y2="322.5" stroke="#bbb" stroke-width="0.8" stroke-dasharray="1,2.3"/>
<line x1="304.7" y1="318.8" x2="304.7" y2="322.5" stroke="#bbb" stroke-width="0.8" stroke-dasharray="1,2.3"/>
<rect x="314.0" y="319.5" width="6.3" height="3.8" fill="#fff" stroke="#000" stroke-width="1.1"/>
<line x1="317.1" y1="321.7" x2="317.1" y2="322.5" stroke="#888" stroke-width="1" stroke-dasharray="1,2.3"/>
<line x1="314.9" y1="323.3" x2="314.9" y2="322.5" stroke="#bbb" stroke-width="0.8" stroke-dasharray="1,2.3"/>
<line x1="319.3" y1="323.3" x2="319.3" y2="322.5" stroke="#bbb" stroke-width="0.8" stroke-dasharray="1,2.3"/>
<rect x="328.6" y="311.3" width="6.3" height="12.0" fill="#fff" stroke="#000" stroke-width="1.1"/>
<line x1="331.7" y1="313.5" x2="331.7" y2="322.5" stroke="#888" stroke-width="1" stroke-dasharray="1,2.3"/>
<line x1="329.5" y1="315.1" x2="329.5" y2="322.5" stroke="#bbb" stroke-width="0.8" stroke-dasharray="1,2.3"/>
<line x1="333.9" y1="315.1" x2="333.9" y2="322.5" stroke="#bbb" stroke-width="0.8" stroke-dasharray="1,2.3"/>
<rect x="343.2" y="323.3" width="6.3" height="6.7" fill="#fff" stroke="#000" stroke-width="1.1"/>
<line x1="346.3" y1="325.5" x2="346.3" y2="329.2" stroke="#888" stroke-width="1" stroke-dasharray="1,2.3"/>
<line x1="344.1" y1="327.1" x2="344.1" y2="329.2" stroke="#bbb" stroke-width="0.8" stroke-dasharray="1,2.3"/>
<line x1="348.5" y1="327.1" x2="348.5" y2="329.2" stroke="#bbb" stroke-width="0.8" stroke-dasharray="1,2.3"/>
<rect x="357.8" y="323.3" width="6.3" height="8.5" fill="#fff" stroke="#000" stroke-width="1.1"/>
<line x1="360.9" y1="325.5" x2="360.9" y2="331.0" stroke="#888" stroke-width="1" stroke-dasharray="1,2.3"/>
<line x1="358.7" y1="327.1" x2="358.7" y2="331.0" stroke="#bbb" stroke-width="0.8" stroke-dasharray="1,2.3"/>
<line x1="363.1" y1="327.1" x2="363.1" y2="331.0" stroke="#bbb" stroke-width="0.8" stroke-dasharray="1,2.3"/>
<rect x="372.4" y="319.5" width="6.3" height="3.8" fill="#fff" stroke="#000" stroke-width="1.1"/>
<line x1="375.6" y1="321.7" x2="375.6" y2="322.5" stroke="#888" stroke-width="1" stroke-dasharray="1,2.3"/>
<line x1="373.4" y1="323.3" x2="373.4" y2="322.5" stroke="#bbb" stroke-width="0.8" stroke-dasharray="1,2.3"/>
<line x1="377.8" y1="323.3" x2="377.8" y2="322.5" stroke="#bbb" stroke-width="0.8" stroke-dasharray="1,2.3"/>
<line x1="400" y1="317.6" x2="410.6" y2="317.6" stroke="#999" stroke-width="0.7"/>
<rect x="415.2" y="316.9" width="6.6" height="1.8" fill="#222"/>
<rect x="430.6" y="317.2" width="6.1" height="2.2" fill="#ddd" stroke="#222" stroke-width="0.9"/>
<rect x="445.3" y="317.2" width="6.2" height="5" fill="#fff" stroke="#111" stroke-width="1"/>
<text transform="translate(56.9,400.3) rotate(-90)" font-size="12">R2271</text>
<text transform="translate(71.9,400.3) rotate(-90)" font-size="12">R2270</text>
<text transform="translate(86.9,400.3) rotate(-90)" font-size="12">R2220</text>
<text transform="translate(101.9,400.3) rotate(-90)" font-size="12">R2217</text>
<text transform="translate(116.9,400.3) rotate(-90)" font-size="12">R2261</text>
<text transform="translate(131.9,400.3) rotate(-90)" font-size="12">R2221</text>
<text transform="translate(146.9,400.3) rotate(-90)" font-size="12">R2216</text>
<text transform="translate(177.4,400.3) rotate(-90)" font-size="12">R2272</text>
<text transform="translate(191.8,400.3) rotate(-90)" font-size="12">R2218</text>
<text transform="translate(206.3,400.3) rotate(-90)" font-size="12">R2266</text>
<text transform="translate(220.8,400.3) rotate(-90)" font-size="12">R2267</text>
<text transform="translate(235.2,400.3) rotate(-90)" font-size="12">R2187</text>
<text transform="translate(249.7,400.3) rotate(-90)" font-size="12">R2222</text>
<text transform="translate(264.1,400.3) rotate(-90)" font-size="12">R2259</text>
<text transform="translate(278.6,400.3) rotate(-90)" font-size="12">R2262</text>
<text transform="translate(293.0,400.3) rotate(-90)" font-size="12">R2263</text>
<text transform="translate(307.4,400.3) rotate(-90)" font-size="12">R2269</text>
<text transform="translate(321.9,400.3) rotate(-90)" font-size="12">R2265</text>
<text transform="translate(336.4,400.3) rotate(-90)" font-size="12">R2268</text>
<text transform="translate(350.8,400.3) rotate(-90)" font-size="12">R2264</text>
<text transform="translate(365.2,400.3) rotate(-90)" font-size="12">R2188</text>
<text transform="translate(379.7,400.3) rotate(-90)" font-size="12">R2260</text>
<text transform="translate(408.9,400.3) rotate(-90)" font-size="12">R2274</text>
<text transform="translate(423.7,400.3) rotate(-90)" font-size="12">R2278</text>
<text transform="translate(438.5,400.3) rotate(-90)" font-size="12">R2275</text>
<text transform="translate(453.3,400.3) rotate(-90)" font-size="12">R2277</text>
<text transform="translate(480.4,265.6) rotate(-90) scale(1.010,1)" font-size="12.5">R993(CD4+)</text>
<text transform="translate(498.1,265.6) rotate(-90) scale(1.000,1)" font-size="12.5">C199(PBMC)</text>
<text transform="translate(515.3,265.6) rotate(-90) scale(1.000,1)" font-size="12.5">C290(PBMC)</text>
</svg></body></html>
